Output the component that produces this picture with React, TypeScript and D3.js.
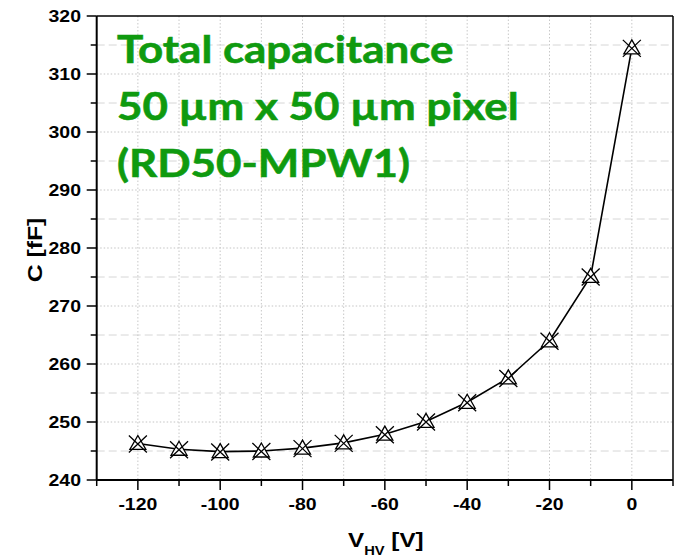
import React from "react";
import * as d3 from "d3";

const voltages = [-120, -110, -100, -90, -80, -70, -60, -50, -40, -30, -20, -10, 0];
const capacitance = [246.3, 245.3, 244.9, 245.0, 245.5, 246.4, 247.9, 250.1, 253.4, 257.6, 264.0, 275.1, 314.5];
const xMajorTicks = [-120, -100, -80, -60, -40, -20, 0];
const xMinorTicks = [-130, -110, -90, -70, -50, -30, -10, 10];
const yMajorTicks = [240, 250, 260, 270, 280, 290, 300, 310, 320];
const yMinorTicks = [245, 255, 265, 275, 285, 295, 305, 315];
const titleLines = ["Total capacitance", "50 µm x 50 µm pixel", "(RD50-MPW1)"];

const W = 675;
const H = 557;
const left = 96.7;
const right = 673;
const top = 16;
const bottom = 480;
const SX = 1.18;

export default function App() {
  const x = d3.scaleLinear().domain([-130, 10]).range([left, right]);
  const y = d3.scaleLinear().domain([240, 320]).range([bottom, top]);
  const pts = voltages.map((v, i) => [x(v), y(capacitance[i])] as [number, number]);
  const line = d3.line()(pts) || "";
  const font = "'Liberation Sans', Arial, sans-serif";
  const green = "#0f9a0f";

  return (
    <svg width={W} height={H} style={{ position: "absolute", left: 0, top: 0, background: "#fff" }}>
      {/* grid */}
      <g>
        {yMinorTicks.map((t) => (
          <line key={"ym" + t} x1={left} x2={right} y1={y(t)} y2={y(t)} stroke="#d6d6d6" strokeWidth={1} strokeDasharray="8,4" />
        ))}
        {yMajorTicks.filter((t) => t !== 240 && t !== 320).map((t) => (
          <line key={"yg" + t} x1={left} x2={right} y1={y(t)} y2={y(t)} stroke="#c4c4c4" strokeWidth={1} strokeDasharray="1.5,2" />
        ))}
        {xMajorTicks.concat(xMinorTicks.filter((t) => t > -130 && t < 10)).map((t) => (
          <line key={"xg" + t} x1={x(t)} x2={x(t)} y1={top} y2={bottom} stroke="#c8c8c8" strokeWidth={1} strokeDasharray="1.5,2" />
        ))}
      </g>

      {/* frame */}
      <line x1={left} x2={right} y1={top} y2={top} stroke="#000" strokeWidth={1.5} />
      <line x1={right} x2={right} y1={top} y2={bottom} stroke="#000" strokeWidth={1.5} />
      <line x1={left} x2={left} y1={top} y2={bottom} stroke="#000" strokeWidth={2} />
      <line x1={left} x2={right} y1={bottom} y2={bottom} stroke="#000" strokeWidth={2} />

      {/* y ticks */}
      {yMajorTicks.map((t) => (
        <g key={"yt" + t}>
          <line x1={left - 10} x2={left} y1={y(t)} y2={y(t)} stroke="#000" strokeWidth={1.5} />
          <text transform={`translate(81, ${y(t) + 5.8}) scale(${SX},1)`} textAnchor="end" fontFamily={font} fontWeight="bold" fontSize={16.5} fill="#000">
            {t}
          </text>
        </g>
      ))}
      {yMinorTicks.map((t) => (
        <line key={"ymt" + t} x1={left - 6} x2={left} y1={y(t)} y2={y(t)} stroke="#000" strokeWidth={1.5} />
      ))}

      {/* x ticks */}
      {xMajorTicks.map((t) => (
        <g key={"xt" + t}>
          <line x1={x(t)} x2={x(t)} y1={bottom} y2={bottom + 10} stroke="#000" strokeWidth={1.5} />
          <text transform={`translate(${x(t)}, 510) scale(${SX},1)`} textAnchor="middle" fontFamily={font} fontWeight="bold" fontSize={16.5} fill="#000">
            {t}
          </text>
        </g>
      ))}
      {xMinorTicks.map((t) => (
        <line key={"xmt" + t} x1={x(t)} x2={x(t)} y1={bottom} y2={bottom + 6} stroke="#000" strokeWidth={1.5} />
      ))}

      {/* axis titles */}
      <text
        transform={`translate(41.5, 250) rotate(-90) scale(${SX},1)`}
        textAnchor="middle"
        fontFamily={font}
        fontWeight="bold"
        fontSize={21}
        fill="#000"
      >
        C [fF]
      </text>
      <text transform={`translate(348, 547) scale(${SX},1)`} fontFamily={font} fontWeight="bold" fontSize={20.5} fill="#000">
        V
        <tspan fontSize={12.5} dy={8}>HV</tspan>
        <tspan dy={-8}> [V]</tspan>
      </text>

      {/* data line */}
      <path d={line} fill="none" stroke="#000" strokeWidth={1.6} />
      {pts.map(([px, py], i) => (
        <g key={"m" + i} transform={`translate(${px},${py})`}>
          <path d="M0,-8L8,6L-8,6Z" fill="#fff" stroke="#000" strokeWidth={1.3} />
          <path d="M-9,-8L9,9M9,-8L-9,9" fill="none" stroke="#000" strokeWidth={1.3} />
        </g>
      ))}

      {/* title */}
      {titleLines.map((s, i) => (
        <text
          key={"t" + i}
          transform={`translate(117, ${63 + i * 57}) scale(1.14,1)`}
          fontFamily="Lato, 'Open Sans', sans-serif"
          fontWeight="bold"
          fontSize={38.5}
          fill={green}
          stroke={green}
          strokeWidth={0.6}
        >
          {s}
        </text>
      ))}
    </svg>
  );
}
